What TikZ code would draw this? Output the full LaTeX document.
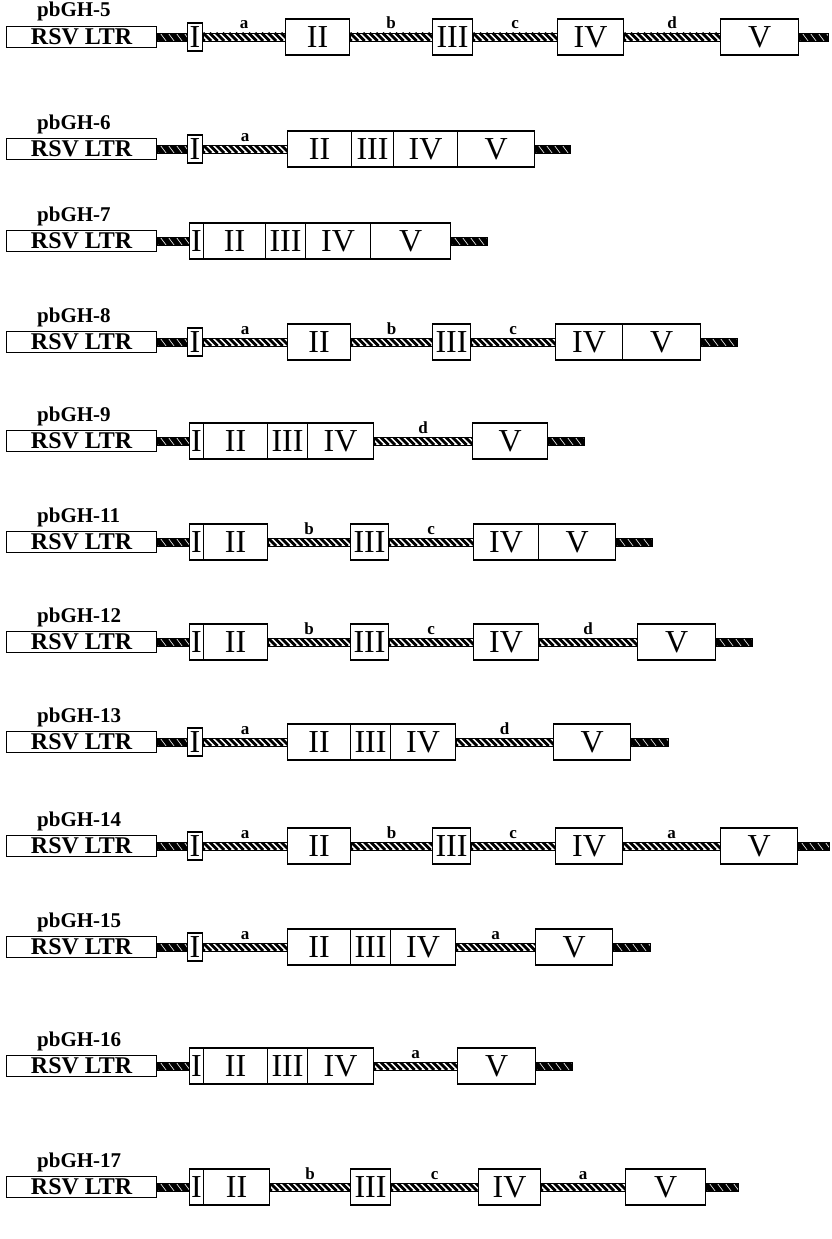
\documentclass[tikz,border=0pt]{standalone}
\usepackage{fontspec}
\setmainfont{Liberation Serif}
\usetikzlibrary{calc}
\tikzset{
 gbox/.style={draw, line width=1.1pt, fill=white, inner sep=0pt, anchor=west},
 ltr/.style={gbox, minimum width=150pt, minimum height=21pt, font=\fontsize{24}{24}\selectfont\bfseries},
 ex/.style={gbox, minimum height=36pt, font=\fontsize{32}{32}\selectfont},
 exI/.style={gbox, minimum height=28pt, minimum width=15pt, font=\fontsize{32}{32}\selectfont},
 gtitle/.style={anchor=base west, font=\fontsize{21}{21}\selectfont\bfseries, inner sep=0pt},
 il/.style={anchor=base, font=\fontsize{17}{17}\selectfont\bfseries, inner sep=0pt},
 intron/.style={draw, line width=0.9pt, fill=white, path picture={\foreach \k in {-3,...,40}{\draw[line width=2.8pt] ([xshift=\k*6.5pt]path picture bounding box.north west) -- ++(8pt,-8pt);}}},
 stub/.style={draw, line width=0.9pt, fill=black, path picture={\foreach \k in {-2,...,10}{\draw[white, line width=0.6pt] ([xshift=\k*8pt+3pt]path picture bounding box.north west) -- ++(6pt,-8pt);}}},
}
\newcommand\Intr[3]{\path[intron] ([yshift=4pt]#1.east) rectangle ([yshift=-4pt]#2.west); \node[il] at ($(#1.east)!.5!(#2.west)+(0,-8)$) {#3};}
\newcommand\Stb[2]{\path[stub] ([yshift=4pt]#1.east) rectangle ([yshift=-4pt]#2.west);}
\newcommand\StbE[2]{\path[stub] ([yshift=4pt]#1.east) rectangle ([yshift=-4pt]#2);}
\newcommand\Head[3]{\node[gtitle] (#1t) at (37,#2-20) {#3}; \node[ltr] (#1L) at (6,#2) {RSV LTR};}
\begin{document}
\begin{tikzpicture}[x=1pt,y=-1pt]
\path[fill=white] (0,0) rectangle (831,1239);
\useasboundingbox (0,0) rectangle (831,1239);
% row 1
\Head{r1}{37}{pbGH-5}
\node[exI] (r1I) at (187,37) {I};
\node[ex, minimum width=64pt] (r1II) at (285,37) {II};
\node[ex, minimum width=40pt] (r1III) at (432,37) {III};
\node[ex, minimum width=66pt] (r1IV) at (557,37) {IV};
\node[ex, minimum width=78pt] (r1V) at (720,37) {V};
\coordinate (r1e) at (828,37);
\Stb{r1L}{r1I}
\Intr{r1I}{r1II}{a} \Intr{r1II}{r1III}{b} \Intr{r1III}{r1IV}{c} \Intr{r1IV}{r1V}{d}
\StbE{r1V}{r1e}
% row 2
\Head{r2}{149}{pbGH-6}
\node[exI] (r2I) at (187,149) {I};
\node[ex, minimum width=64pt] (r2II) at (287,149) {II};
\node[ex, minimum width=42pt] (r2III) at (351,149) {III};
\node[ex, minimum width=64pt] (r2IV) at (393,149) {IV};
\node[ex, minimum width=77pt] (r2V) at (457,149) {V};
\coordinate (r2e) at (570,149);
\Stb{r2L}{r2I}
\Intr{r2I}{r2II}{a}
\StbE{r2V}{r2e}
% row 3
\Head{r3}{241}{pbGH-7}
\node[ex, minimum width=14pt] (r3I) at (189,241) {I};
\node[ex, minimum width=62pt] (r3II) at (203,241) {II};
\node[ex, minimum width=40pt] (r3III) at (265,241) {III};
\node[ex, minimum width=65pt] (r3IV) at (305,241) {IV};
\node[ex, minimum width=80pt] (r3V) at (370,241) {V};
\coordinate (r3e) at (487,241);
\Stb{r3L}{r3I}
\StbE{r3V}{r3e}
% row 4
\Head{r4}{342}{pbGH-8}
\node[exI] (r4I) at (187,342) {I};
\node[ex, minimum width=63pt] (r4II) at (287,342) {II};
\node[ex, minimum width=38pt] (r4III) at (432,342) {III};
\node[ex, minimum width=67pt] (r4IV) at (555,342) {IV};
\node[ex, minimum width=78pt] (r4V) at (622,342) {V};
\coordinate (r4e) at (737,342);
\Stb{r4L}{r4I}
\Intr{r4I}{r4II}{a} \Intr{r4II}{r4III}{b} \Intr{r4III}{r4IV}{c}
\StbE{r4V}{r4e}
% row 5
\Head{r5}{441}{pbGH-9}
\node[ex, minimum width=14pt] (r5I) at (189,441) {I};
\node[ex, minimum width=64pt] (r5II) at (203,441) {II};
\node[ex, minimum width=40pt] (r5III) at (267,441) {III};
\node[ex, minimum width=66pt] (r5IV) at (307,441) {IV};
\node[ex, minimum width=75pt] (r5V) at (472,441) {V};
\coordinate (r5e) at (584,441);
\Stb{r5L}{r5I}
\Intr{r5IV}{r5V}{d}
\StbE{r5V}{r5e}
% row 6
\Head{r6}{542}{pbGH-11}
\node[ex, minimum width=14pt] (r6I) at (189,542) {I};
\node[ex, minimum width=64pt] (r6II) at (203,542) {II};
\node[ex, minimum width=38pt] (r6III) at (350,542) {III};
\node[ex, minimum width=65pt] (r6IV) at (473,542) {IV};
\node[ex, minimum width=77pt] (r6V) at (538,542) {V};
\coordinate (r6e) at (652,542);
\Stb{r6L}{r6I}
\Intr{r6II}{r6III}{b} \Intr{r6III}{r6IV}{c}
\StbE{r6V}{r6e}
% row 7
\Head{r7}{642}{pbGH-12}
\node[ex, minimum width=14pt] (r7I) at (189,642) {I};
\node[ex, minimum width=64pt] (r7II) at (203,642) {II};
\node[ex, minimum width=38pt] (r7III) at (350,642) {III};
\node[ex, minimum width=65pt] (r7IV) at (473,642) {IV};
\node[ex, minimum width=78pt] (r7V) at (637,642) {V};
\coordinate (r7e) at (752,642);
\Stb{r7L}{r7I}
\Intr{r7II}{r7III}{b} \Intr{r7III}{r7IV}{c} \Intr{r7IV}{r7V}{d}
\StbE{r7V}{r7e}
% row 8
\Head{r8}{742}{pbGH-13}
\node[exI] (r8I) at (187,742) {I};
\node[ex, minimum width=63pt] (r8II) at (287,742) {II};
\node[ex, minimum width=40pt] (r8III) at (350,742) {III};
\node[ex, minimum width=65pt] (r8IV) at (390,742) {IV};
\node[ex, minimum width=77pt] (r8V) at (553,742) {V};
\coordinate (r8e) at (668,742);
\Stb{r8L}{r8I}
\Intr{r8I}{r8II}{a} \Intr{r8IV}{r8V}{d}
\StbE{r8V}{r8e}
% row 9
\Head{r9}{846}{pbGH-14}
\node[exI] (r9I) at (187,846) {I};
\node[ex, minimum width=63pt] (r9II) at (287,846) {II};
\node[ex, minimum width=38pt] (r9III) at (432,846) {III};
\node[ex, minimum width=67pt] (r9IV) at (555,846) {IV};
\node[ex, minimum width=77pt] (r9V) at (720,846) {V};
\coordinate (r9e) at (829,846);
\Stb{r9L}{r9I}
\Intr{r9I}{r9II}{a} \Intr{r9II}{r9III}{b} \Intr{r9III}{r9IV}{c} \Intr{r9IV}{r9V}{a}
\StbE{r9V}{r9e}
% row 10
\Head{r10}{947}{pbGH-15}
\node[exI] (r10I) at (187,947) {I};
\node[ex, minimum width=63pt] (r10II) at (287,947) {II};
\node[ex, minimum width=40pt] (r10III) at (350,947) {III};
\node[ex, minimum width=65pt] (r10IV) at (390,947) {IV};
\node[ex, minimum width=77pt] (r10V) at (535,947) {V};
\coordinate (r10e) at (650,947);
\Stb{r10L}{r10I}
\Intr{r10I}{r10II}{a} \Intr{r10IV}{r10V}{a}
\StbE{r10V}{r10e}
% row 11
\Head{r11}{1066}{pbGH-16}
\node[ex, minimum width=14pt] (r11I) at (189,1066) {I};
\node[ex, minimum width=64pt] (r11II) at (203,1066) {II};
\node[ex, minimum width=40pt] (r11III) at (267,1066) {III};
\node[ex, minimum width=66pt] (r11IV) at (307,1066) {IV};
\node[ex, minimum width=78pt] (r11V) at (457,1066) {V};
\coordinate (r11e) at (572,1066);
\Stb{r11L}{r11I}
\Intr{r11IV}{r11V}{a}
\StbE{r11V}{r11e}
% row 12
\Head{r12}{1187}{pbGH-17}
\node[ex, minimum width=14pt] (r12I) at (189,1187) {I};
\node[ex, minimum width=66pt] (r12II) at (203,1187) {II};
\node[ex, minimum width=40pt] (r12III) at (350,1187) {III};
\node[ex, minimum width=62pt] (r12IV) at (478,1187) {IV};
\node[ex, minimum width=80pt] (r12V) at (625,1187) {V};
\coordinate (r12e) at (738,1187);
\Stb{r12L}{r12I}
\Intr{r12II}{r12III}{b} \Intr{r12III}{r12IV}{c} \Intr{r12IV}{r12V}{a}
\StbE{r12V}{r12e}
\end{tikzpicture}
\end{document}
